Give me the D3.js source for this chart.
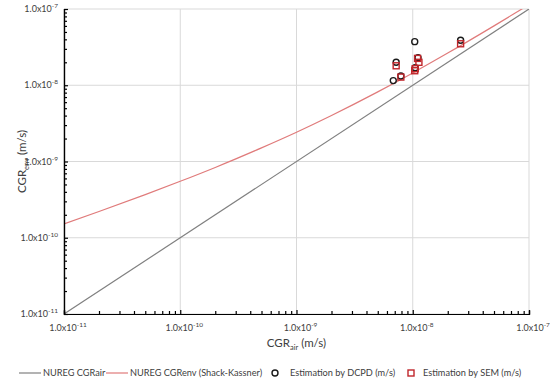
<!DOCTYPE html>
<html>
<head>
<meta charset="utf-8">
<script src="https://cdn.jsdelivr.net/npm/d3@7"></script>
<style>
	body { margin: 0; background: #fff; }
	text { font-family: Lato, "Open Sans", sans-serif; fill: #404040; }
</style>
</head>
<body>
<div id="chart"></div>
<script>
( function () {

	// Decade ticks, used on both axes.
	var decades = [ 1e-11, 1e-10, 1e-9, 1e-8, 1e-7 ];
	var decadeExps = [ '-11', '-10', '-9', '-8', '-7' ];

	// NUREG CGRair line (1:1).
	var airX = [ 1e-11, 1e-7 ];
	var airY = [ 1e-11, 1e-7 ];

	// NUREG CGRenv (Shack-Kassner).
	var envX = [ 1e-11, 2e-11, 5e-11, 1e-10, 2e-10, 5e-10, 1e-9, 2e-9, 5e-9, 1e-8, 2e-8, 5e-8, 8e-8, 1e-7 ];
	var envY = [ 1.52e-10, 2.21e-10, 3.68e-10, 5.5e-10, 8.36e-10, 1.51e-9, 2.42e-9, 4.01e-9, 8.18e-9, 1.45e-8, 2.64e-8, 6.01e-8, 9.27e-8, 1.14e-7 ];

	// Estimation by DCPD (m/s).
	var dcpdX = [ 1.04e-8, 6.8e-9, 7.9e-9, 7.2e-9, 1.11e-8, 1.05e-8, 2.58e-8 ];
	var dcpdY = [ 3.73e-8, 1.15e-8, 1.32e-8, 2.0e-8, 2.3e-8, 1.7e-8, 3.9e-8 ];

	// Estimation by SEM (m/s).
	var semX = [ 7.2e-9, 7.9e-9, 1.1e-8, 1.13e-8, 1.05e-8, 1.04e-8, 2.58e-8 ];
	var semY = [ 1.8e-8, 1.28e-8, 2.25e-8, 2.0e-8, 1.65e-8, 1.55e-8, 3.5e-8 ];

	var width = 550, height = 384;
	var margins = { top: 9, left: 64, right: 21, bottom: 70 };
	var plotW = width - margins.left - margins.right;
	var plotH = height - margins.top - margins.bottom;

	var svg = d3.select( '#chart' ).append( 'svg' )
		.attr( 'width', width )
		.attr( 'height', height );

	var xScale = d3.scaleLog().domain( [ 1e-11, 1e-7 ] ).range( [ margins.left, margins.left + plotW ] );
	var yScale = d3.scaleLog().domain( [ 1e-11, 1e-7 ] ).range( [ margins.top + plotH, margins.top ] );

	// Minor tick values (2..9 in each decade).
	var minors = [];
	for ( var d = 0; d < decades.length - 1; d++ ) {
		for ( var k = 2; k <= 9; k++ ) {
			minors.push( decades[d] * k );
		}
	}

	// Gridlines at the decades.
	var grid = svg.append( 'g' ).attr( 'stroke', '#d9d9d9' ).attr( 'stroke-width', 1 );
	decades.forEach( function ( v ) {
		grid.append( 'line' )
			.attr( 'x1', xScale( v ) ).attr( 'x2', xScale( v ) )
			.attr( 'y1', margins.top ).attr( 'y2', margins.top + plotH );
		grid.append( 'line' )
			.attr( 'x1', margins.left ).attr( 'x2', margins.left + plotW )
			.attr( 'y1', yScale( v ) ).attr( 'y2', yScale( v ) );
	} );

	svg.append( 'clipPath' ).attr( 'id', 'plot-clip' ).append( 'rect' )
		.attr( 'x', margins.left ).attr( 'y', margins.top )
		.attr( 'width', plotW ).attr( 'height', plotH );

	var plot = svg.append( 'g' ).attr( 'clip-path', 'url(#plot-clip)' );

	var line = d3.line()
		.x( function ( d ) { return xScale( d[0] ); } )
		.y( function ( d ) { return yScale( d[1] ); } );

	plot.append( 'path' )
		.datum( d3.zip( airX, airY ) )
		.attr( 'd', line )
		.attr( 'fill', 'none' )
		.attr( 'stroke', '#808080' )
		.attr( 'stroke-width', 1.2 );

	plot.append( 'path' )
		.datum( d3.zip( envX, envY ) )
		.attr( 'd', line.curve( d3.curveMonotoneX ) )
		.attr( 'fill', 'none' )
		.attr( 'stroke', '#e07b7b' )
		.attr( 'stroke-width', 1.2 );

	// Axis lines with inside ticks.
	var xAxis = d3.axisBottom( xScale ).tickValues( decades ).tickSize( -4 ).tickFormat( '' );
	var xMinor = d3.axisBottom( xScale ).tickValues( minors ).tickSize( -3 ).tickFormat( '' );
	var yAxis = d3.axisLeft( yScale ).tickValues( decades ).tickSize( -4 ).tickFormat( '' );
	var yMinor = d3.axisLeft( yScale ).tickValues( minors ).tickSize( -3 ).tickFormat( '' );

	[ xAxis, xMinor ].forEach( function ( ax ) {
		svg.append( 'g' )
			.attr( 'transform', 'translate( 0, ' + ( margins.top + plotH ) + ' )' )
			.call( ax )
			.call( function ( g ) { g.selectAll( 'path, line' ).attr( 'stroke', '#000' ).attr( 'stroke-width', 1.2 ); } );
	} );
	[ yAxis, yMinor ].forEach( function ( ax ) {
		svg.append( 'g' )
			.attr( 'transform', 'translate( ' + margins.left + ', 0 )' )
			.call( ax )
			.call( function ( g ) { g.selectAll( 'path, line' ).attr( 'stroke', '#000' ).attr( 'stroke-width', 1.2 ); } );
	} );

	// Tick labels with superscript exponents.
	var tickLabel = function ( sel, i ) {
		sel.append( 'tspan' ).text( '1.0x10' );
		sel.append( 'tspan' ).attr( 'dy', -4 ).attr( 'font-size', 6.5 ).text( decadeExps[i] );
	};
	decades.forEach( function ( v, i ) {
		svg.append( 'text' )
			.attr( 'x', xScale( v ) + 4 ).attr( 'y', margins.top + plotH + 17 )
			.attr( 'text-anchor', 'middle' ).attr( 'font-size', 9 )
			.call( tickLabel, i );
		svg.append( 'text' )
			.attr( 'x', margins.left - 6 ).attr( 'y', yScale( v ) + 3 )
			.attr( 'text-anchor', 'end' ).attr( 'font-size', 9 )
			.call( tickLabel, i );
	} );

	// Axis titles.
	var xTitle = svg.append( 'text' )
		.attr( 'x', margins.left + plotW / 2 ).attr( 'y', 347 )
		.attr( 'text-anchor', 'middle' ).attr( 'font-size', 11.5 );
	xTitle.append( 'tspan' ).text( 'CGR' );
	xTitle.append( 'tspan' ).attr( 'dy', 3 ).attr( 'font-size', 7.5 ).text( 'air' );
	xTitle.append( 'tspan' ).attr( 'dy', -3 ).text( ' (m/s)' );

	var yTitle = svg.append( 'text' )
		.attr( 'transform', 'translate( 26, ' + ( margins.top + plotH / 2 ) + ' ) rotate( -90 )' )
		.attr( 'text-anchor', 'middle' ).attr( 'font-size', 11.5 );
	yTitle.append( 'tspan' ).text( 'CGR' );
	yTitle.append( 'tspan' ).attr( 'dy', 3 ).attr( 'font-size', 7.5 ).text( 'env' );
	yTitle.append( 'tspan' ).attr( 'dy', -3 ).text( ' (m/s)' );

	// Scatter markers.
	svg.append( 'g' ).selectAll( 'circle' )
		.data( d3.zip( dcpdX, dcpdY ) )
		.enter()
		.append( 'circle' )
		.attr( 'cx', function ( d ) { return xScale( d[0] ); } )
		.attr( 'cy', function ( d ) { return yScale( d[1] ); } )
		.attr( 'r', 3 )
		.attr( 'fill', 'none' )
		.attr( 'stroke', '#1a1a1a' )
		.attr( 'stroke-width', 1.4 );

	svg.append( 'g' ).selectAll( 'rect' )
		.data( d3.zip( semX, semY ) )
		.enter()
		.append( 'rect' )
		.attr( 'x', function ( d ) { return xScale( d[0] ) - 3; } )
		.attr( 'y', function ( d ) { return yScale( d[1] ) - 3; } )
		.attr( 'width', 6 ).attr( 'height', 6 )
		.attr( 'fill', 'none' )
		.attr( 'stroke', '#c0262b' )
		.attr( 'stroke-width', 1.4 );

	// Legend.
	var ly = 373;
	var legend = svg.append( 'g' ).attr( 'font-size', 9.2 );
	legend.append( 'line' ).attr( 'x1', 19 ).attr( 'x2', 41 ).attr( 'y1', ly ).attr( 'y2', ly )
		.attr( 'stroke', '#808080' ).attr( 'stroke-width', 1.2 );
	legend.append( 'text' ).attr( 'x', 43 ).attr( 'y', ly + 3.3 ).text( 'NUREG CGRair' );
	legend.append( 'line' ).attr( 'x1', 106 ).attr( 'x2', 128 ).attr( 'y1', ly ).attr( 'y2', ly )
		.attr( 'stroke', '#e07b7b' ).attr( 'stroke-width', 1.2 );
	legend.append( 'text' ).attr( 'x', 130 ).attr( 'y', ly + 3.3 ).text( 'NUREG CGRenv (Shack-Kassner)' );
	legend.append( 'circle' ).attr( 'cx', 275 ).attr( 'cy', ly ).attr( 'r', 3 )
		.attr( 'fill', 'none' ).attr( 'stroke', '#1a1a1a' ).attr( 'stroke-width', 1.4 );
	legend.append( 'text' ).attr( 'x', 290 ).attr( 'y', ly + 3.3 ).text( 'Estimation by DCPD (m/s)' );
	legend.append( 'rect' ).attr( 'x', 408 ).attr( 'y', ly - 3 ).attr( 'width', 6 ).attr( 'height', 6 )
		.attr( 'fill', 'none' ).attr( 'stroke', '#c0262b' ).attr( 'stroke-width', 1.4 );
	legend.append( 'text' ).attr( 'x', 423 ).attr( 'y', ly + 3.3 ).text( 'Estimation by SEM (m/s)' );

} )();
</script>
</body>
</html>
